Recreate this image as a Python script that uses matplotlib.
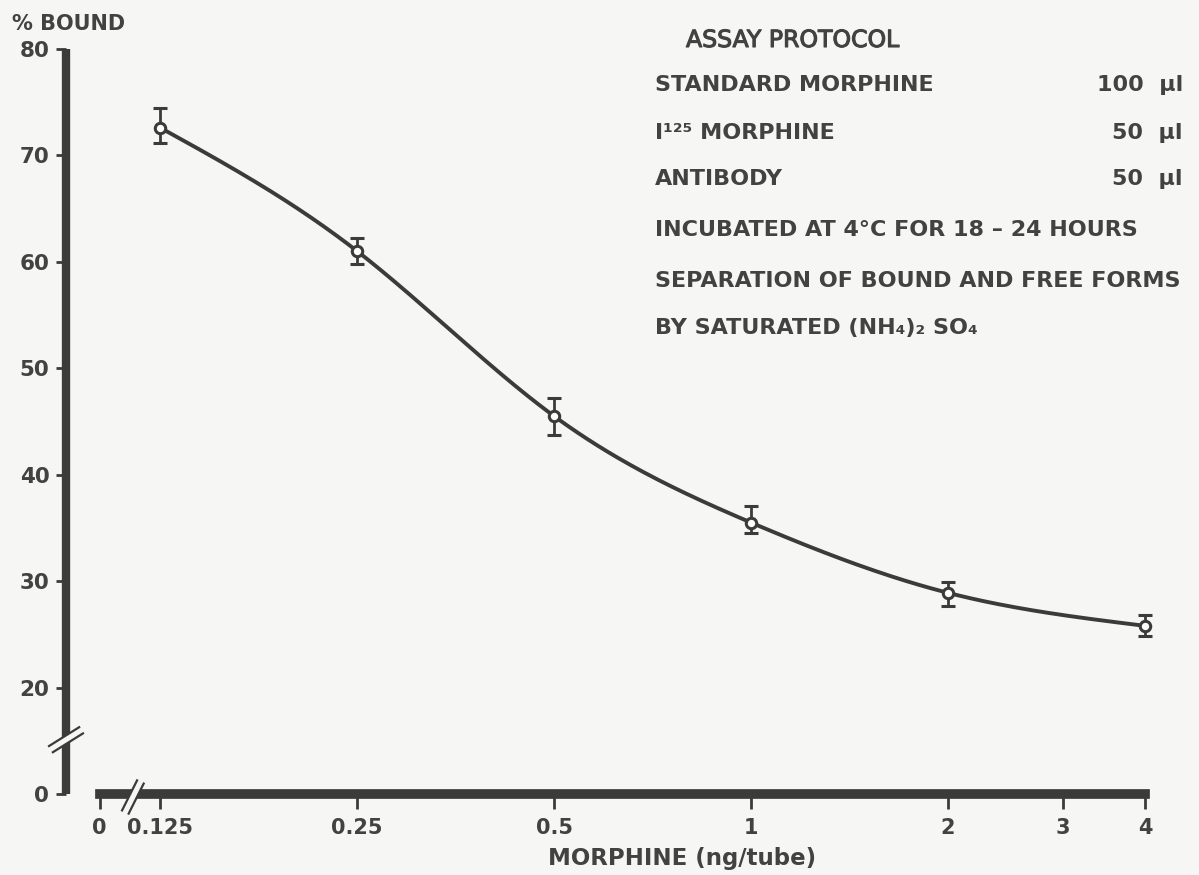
import numpy as np
import matplotlib
matplotlib.use("Agg")
import matplotlib.pyplot as plt
import matplotlib.patheffects as pe
from matplotlib.lines import Line2D
from matplotlib.transforms import IdentityTransform

# Morphine standard curve (radioimmunoassay)
dose = [0.125, 0.25, 0.5, 1, 2, 4]          # ng/tube
bound = [72.6, 61.0, 45.5, 35.5, 28.9, 25.8]  # % bound
err_low = [1.4, 1.2, 1.8, 1.0, 1.2, 1.0]
err_high = [1.9, 1.2, 1.7, 1.6, 1.0, 1.0]

x_tick_pos = [0.101, 0.125, 0.25, 0.5, 1, 2, 3, 4]
x_tick_labels = ["0", "0.125", "0.25", "0.5", "1", "2", "3", "4"]
y_tick_pos = [10, 20, 30, 40, 50, 60, 70, 80]
y_tick_labels = ["0", "20", "30", "40", "50", "60", "70", "80"]

protocol_items = ["STANDARD MORPHINE", "I\u00b9\u00b2\u2075 MORPHINE", "ANTIBODY"]
protocol_volumes = ["100  \u00b5l", "50  \u00b5l", "50  \u00b5l"]
protocol_notes = ["INCUBATED AT 4\u00b0C FOR 18 \u2013 24 HOURS",
                  "SEPARATION OF BOUND AND FREE FORMS",
                  "BY SATURATED (NH\u2084)\u2082 SO\u2084"]

INK = "#3b3b3b"
TEXT = "#424242"
PAPER = "#f6f6f4"

W, H = 1199, 875
fig = plt.figure(figsize=(W / 100, H / 100), dpi=100, facecolor=PAPER)
ax = fig.add_axes([66 / W, 1 - 794 / H, (1145 - 66) / W, (794 - 49) / H])
ax.set_facecolor(PAPER)

ax.set_xscale("log", base=2)
ax.set_xlim(0.0897, 4)
ax.set_ylim(10, 80)

# smooth curve through the means (natural cubic spline in log2 dose)
lx = np.log2(dose)
yv = np.array(bound, dtype=float)
n = len(lx)
h = np.diff(lx)
A = np.zeros((n, n))
r = np.zeros(n)
A[0, 0] = A[-1, -1] = 1.0
for i in range(1, n - 1):
    A[i, i - 1] = h[i - 1]
    A[i, i] = 2 * (h[i - 1] + h[i])
    A[i, i + 1] = h[i]
    r[i] = 6 * ((yv[i + 1] - yv[i]) / h[i] - (yv[i] - yv[i - 1]) / h[i - 1])
M = np.linalg.solve(A, r)
cx, cy = [], []
for i in range(n - 1):
    t = np.linspace(lx[i], lx[i + 1], 60)
    a, b = lx[i + 1] - t, t - lx[i]
    s = (M[i] * a**3 + M[i + 1] * b**3) / (6 * h[i]) \
        + (yv[i] / h[i] - M[i] * h[i] / 6) * a \
        + (yv[i + 1] / h[i] - M[i + 1] * h[i] / 6) * b
    cx.extend(2.0 ** t)
    cy.extend(s)
ax.plot(cx, cy, color=INK, lw=2.8, solid_capstyle="round", clip_on=False, zorder=3)

ax.errorbar(dose, bound, yerr=[err_low, err_high], fmt="o", ms=7.5,
            mfc="white", mec=INK, mew=2.2, ecolor=INK, elinewidth=2.0,
            capsize=5, capthick=2.4, clip_on=False, zorder=4)

# axes drawn as heavy bars, detached at the origin
for side in ("top", "right"):
    ax.spines[side].set_visible(False)
ax.spines["left"].set_linewidth(6)
ax.spines["left"].set_color(INK)
ax.spines["left"].set_bounds(10, 80)
ax.spines["bottom"].set_linewidth(7)
ax.spines["bottom"].set_color(INK)
ax.spines["bottom"].set_bounds(x_tick_pos[0], 4)
ax.spines["left"].set_capstyle("butt")

ax.set_xticks(x_tick_pos)
ax.set_xticklabels(x_tick_labels)
ax.xaxis.set_minor_locator(matplotlib.ticker.NullLocator())
ax.set_yticks(y_tick_pos)
ax.set_yticklabels(y_tick_labels)
ax.tick_params(axis="x", length=11, width=2, color=INK, pad=6,
               labelsize=15, labelcolor=TEXT)
ax.tick_params(axis="y", length=7, width=2, color=INK, pad=5,
               labelsize=15.5, labelcolor=TEXT)
for lab in ax.get_xticklabels() + ax.get_yticklabels():
    lab.set_fontweight("bold")

fig.canvas.draw()


def axis_break(xc, yc, dx, dy, gap_dx, gap_dy):
    # two parallel strokes with a paper-coloured gap across the axis bar
    fig.add_artist(Line2D([xc - dx, xc + dx], [yc - dy, yc + dy],
                          transform=IdentityTransform(), color=PAPER, lw=5.0,
                          solid_capstyle="butt", zorder=10))
    for sgn in (-1, 1):
        ox, oy = sgn * gap_dx, sgn * gap_dy
        fig.add_artist(Line2D([xc - dx + ox, xc + dx + ox],
                              [yc - dy + oy, yc + dy + oy],
                              transform=IdentityTransform(), color=INK, lw=1.6,
                              solid_capstyle="butt", zorder=11))


# y-axis break
px_y = ax.transData.transform((0.0897, 15.1))
axis_break(px_y[0], px_y[1], 16, 10, 1.9, -3.1)
# x-axis break
px_x = ax.transData.transform((0.1135, 10))
axis_break(px_x[0], px_x[1] - 3, 8, 16, 3.3, -1.6)

fs = dict(fontweight="bold", color=TEXT)
fig.text(12 / W, 1 - 24 / H, "% BOUND", fontsize=15, va="center", ha="left", **fs)
fig.text(682 / W, 1 - 859 / H, "MORPHINE (ng/tube)", fontsize=16.5, va="center",
         ha="center", **fs)

fig.text(686 / W, 1 - 40 / H, "ASSAY PROTOCOL", fontsize=17, va="center", ha="left",
         color=TEXT,
         path_effects=[pe.withStroke(linewidth=0.8, foreground=TEXT)])
rows_y = [85, 133, 179]
for txt, vol, yy in zip(protocol_items, protocol_volumes, rows_y):
    fig.text(655 / W, 1 - yy / H, txt, fontsize=16, va="center", ha="left", **fs)
    fig.text(1183 / W, 1 - yy / H, vol, fontsize=16, va="center", ha="right", **fs)
for txt, yy in zip(protocol_notes, [230, 281, 328]):
    fig.text(655 / W, 1 - yy / H, txt, fontsize=16, va="center", ha="left", **fs)

fig.savefig("out.png", dpi=100, facecolor=PAPER)
